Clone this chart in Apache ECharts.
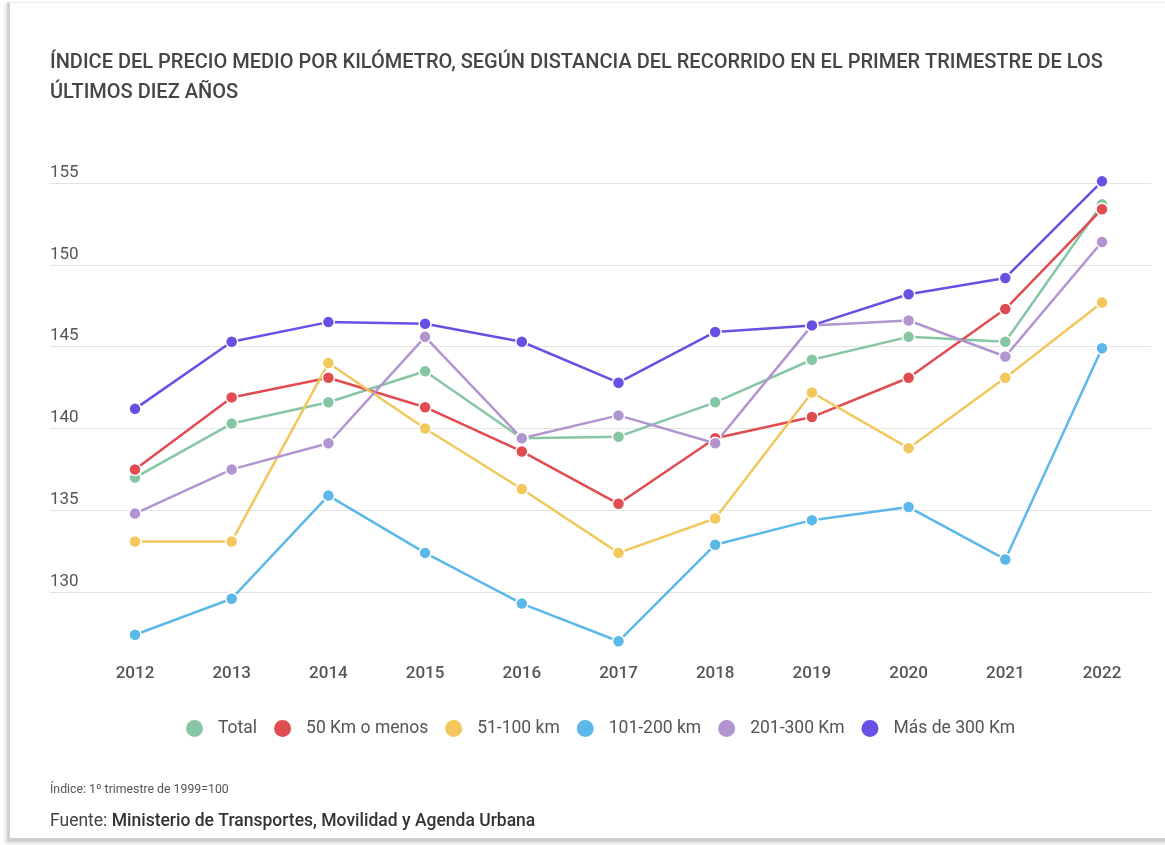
<!DOCTYPE html>
<html>
<head>
<meta charset="utf-8">
<script src="https://cdn.jsdelivr.net/npm/echarts@6/dist/echarts.min.js"></script>
<style>
  html, body { margin: 0; padding: 0; background: #fff; }
  #frame {
    position: absolute; left: 7px; top: 2px; width: 1170px; height: 835px;
    border-left: 3px solid #cfcfcf; border-top: 1px solid #ececec; border-bottom: 4px solid #cfcfcf;
    box-shadow: -2px 2px 4px rgba(0,0,0,0.12);
  }
  #main { position: absolute; left: 0; top: 0; width: 1165px; height: 845px; }
</style>
</head>
<body>
<div id="frame"></div>
<div id="main"></div>
<script>
// años
var years = ["2012", "2013", "2014", "2015", "2016", "2017", "2018", "2019", "2020", "2021", "2022"];
// series (índice, 1º trimestre de 1999 = 100)
var total = [137.0, 140.3, 141.6, 143.5, 139.4, 139.5, 141.6, 144.2, 145.6, 145.3, 153.7];
var km50 = [137.5, 141.9, 143.1, 141.3, 138.6, 135.4, 139.4, 140.7, 143.1, 147.3, 153.4];
var km51_100 = [133.1, 133.1, 144.0, 140.0, 136.3, 132.4, 134.5, 142.2, 138.8, 143.1, 147.7];
var km101_200 = [127.4, 129.6, 135.9, 132.4, 129.3, 127.0, 132.9, 134.4, 135.2, 132.0, 144.9];
var km201_300 = [134.8, 137.5, 139.1, 145.6, 139.4, 140.8, 139.1, 146.3, 146.6, 144.4, 151.4];
var km300 = [141.2, 145.3, 146.5, 146.4, 145.3, 142.8, 145.9, 146.3, 148.2, 149.2, 155.1];
var seriesNames = ["Total", "50 Km o menos", "51-100 km", "101-200 km", "201-300 Km", "Más de 300 Km"];
var yTicks = [125, 130, 135, 140, 145, 150, 155];

var colors = ["#87c6a4", "#e04c50", "#f2c75c", "#5cb8e8", "#b295d0", "#6750e3"];
var allData = [total, km50, km51_100, km101_200, km201_300, km300];
var font = "Roboto, 'Noto Sans', sans-serif";

var myChart = echarts.init(document.getElementById("main"));

function makeSeries() {
  var out = [];
  for (var i = 0; i < allData.length; i++) {
    out.push({
      name: seriesNames[i],
      type: "line",
      xAxisIndex: 0,
      yAxisIndex: 0,
      clip: false,
      symbol: "circle",
      symbolSize: 12,
      data: allData[i],
      itemStyle: { color: colors[i], borderColor: "#fff", borderWidth: 1.5 },
      lineStyle: { color: colors[i], width: 2.5 },
      emphasis: { disabled: true },
    });
  }
  return out;
}

// primera línea (125) invisible
var gridColors = ["rgba(0,0,0,0)"];
for (var k = 1; k < yTicks.length; k++) gridColors.push("#e3e3e3");

myChart.setOption({
  animation: false,
  textStyle: { fontFamily: font },
  title: {
    text: "ÍNDICE DEL PRECIO MEDIO POR KILÓMETRO, SEGÚN DISTANCIA DEL RECORRIDO EN EL PRIMER TRIMESTRE DE LOS\nÚLTIMOS DIEZ AÑOS",
    left: 50,
    top: 48,
    padding: 0,
    textStyle: { fontFamily: font, fontSize: 20, fontWeight: 500, color: "#454545", lineHeight: 30 },
  },
  legend: {
    data: seriesNames,
    left: 184,
    top: 718,
    padding: 0,
    icon: "circle",
    itemWidth: 19,
    itemHeight: 19,
    itemGap: 15,
    textStyle: { fontFamily: font, fontSize: 17.5, color: "#555", padding: [0, 0, 0, 9] },
  },
  grid: [
    { left: 135, right: 63, top: 183, bottom: 171 },
    { left: 50, right: 14, top: 183, bottom: 171 },
  ],
  xAxis: [
    {
      gridIndex: 0,
      type: "category",
      data: years,
      boundaryGap: false,
      axisLine: { show: false },
      axisTick: { show: false },
      axisLabel: { fontSize: 17, fontWeight: 500, color: "#555", margin: 0, verticalAlign: "middle", padding: [8, 0, 0, 0] },
    },
    { gridIndex: 1, type: "value", show: false },
  ],
  yAxis: [
    {
      gridIndex: 0,
      type: "value",
      min: yTicks[0],
      max: yTicks[yTicks.length - 1],
      interval: 5,
      show: false,
    },
    {
      gridIndex: 1,
      type: "value",
      min: yTicks[0],
      max: yTicks[yTicks.length - 1],
      interval: 5,
      axisLine: { show: false },
      axisTick: { show: false },
      splitLine: { lineStyle: { color: gridColors, width: 1 } },
      axisLabel: {
        inside: true,
        margin: 0,
        verticalAlign: "bottom",
        padding: [0, 0, 2, 0],
        fontSize: 17,
        color: "#555",
        formatter: function (v) {
          return v === yTicks[0] ? "" : String(v);
        },
      },
    },
  ],
  graphic: [
    {
      type: "text",
      left: 50,
      top: 784,
      style: { text: "Índice: 1º trimestre de 1999=100", fontSize: 12.3, fill: "#555", fontFamily: font },
    },
    {
      type: "text",
      left: 50,
      top: 813,
      style: {
        text: "{a|Fuente: }{b|Ministerio de Transportes, Movilidad y Agenda Urbana}",
        fontFamily: font,
        rich: {
          a: { fontSize: 17.5, fill: "#444", fontFamily: font },
          b: { fontSize: 17.5, fill: "#333", fontWeight: 500, fontFamily: font },
        },
      },
    },
  ],
  series: makeSeries(),
});
</script>
</body>
</html>
